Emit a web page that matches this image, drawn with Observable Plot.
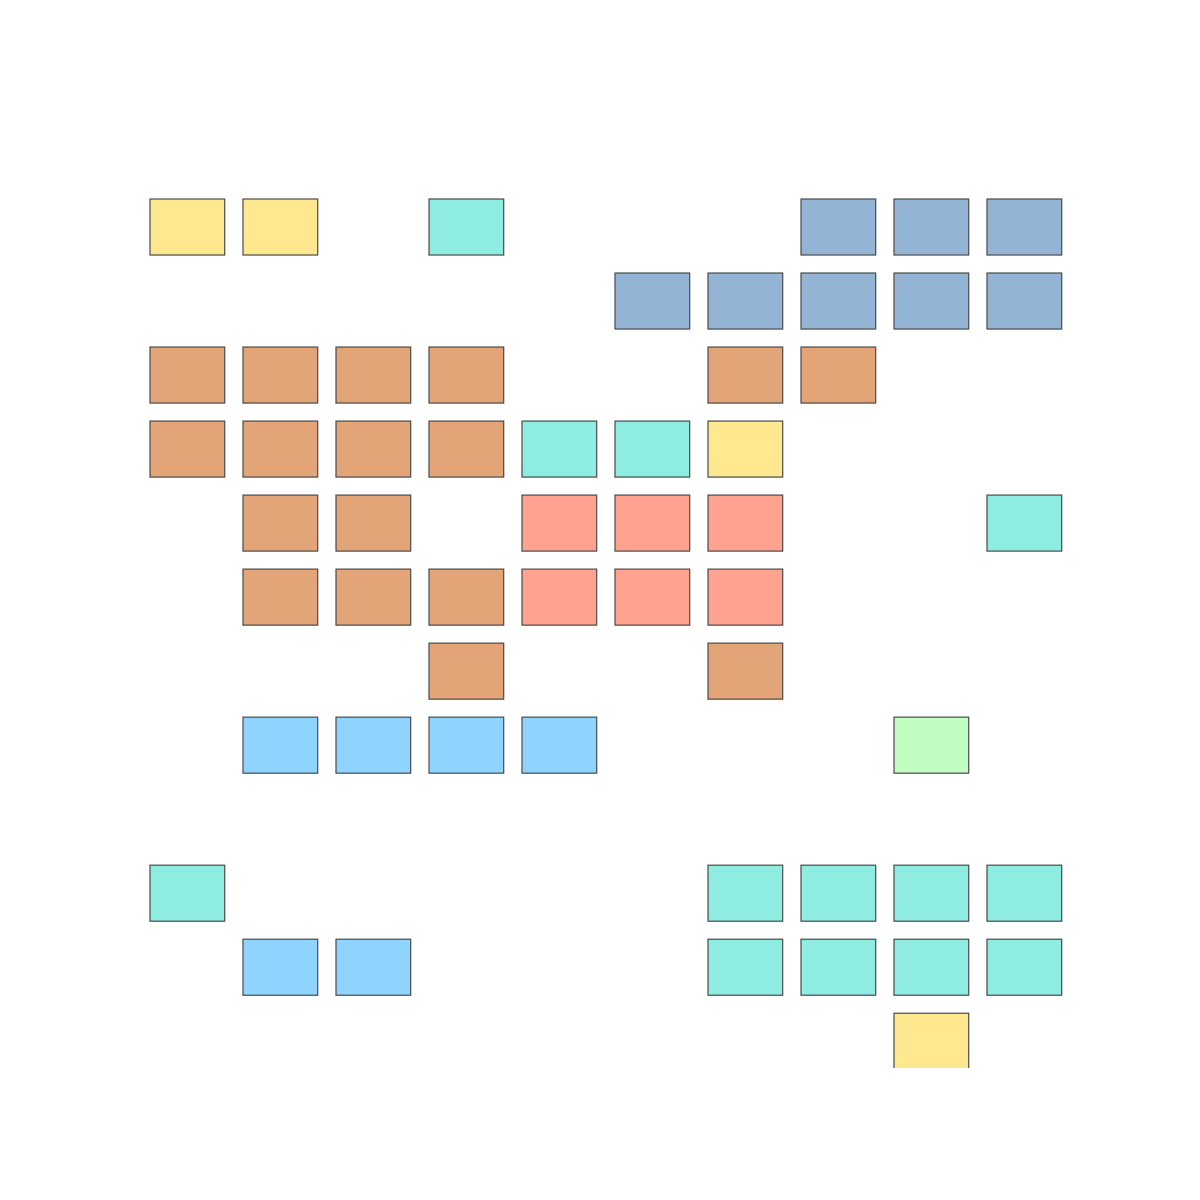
<!DOCTYPE html>
<html>
<head>
<meta charset="utf-8">
<script src="https://cdn.jsdelivr.net/npm/d3@7"></script>
<script src="https://cdn.jsdelivr.net/npm/@observablehq/plot@0.6"></script>
<style>
  html, body { margin: 0; padding: 0; background: #fff; }
</style>
</head>
<body>
<div id="chart"></div>
<script>
// Grid cells: column index, row index, category
const cellCol = [0,1,3,7,8,9, 5,6,7,8,9, 0,1,2,3,6,7, 0,1,2,3,4,5,6, 1,2,4,5,6,9, 1,2,3,4,5,6, 3,6, 1,2,3,4,8, 0,6,7,8,9, 1,2,6,7,8,9, 8];
const cellRow = [0,0,0,0,0,0, 1,1,1,1,1, 2,2,2,2,2,2, 3,3,3,3,3,3,3, 4,4,4,4,4,4, 5,5,5,5,5,5, 6,6, 7,7,7,7,7, 9,9,9,9,9, 10,10,10,10,10,10, 11];
const cellCat = [
  "A","A","B","C","C","C",
  "C","C","C","C","C",
  "D","D","D","D","D","D",
  "D","D","D","D","B","B","A",
  "D","D","E","E","E","B",
  "D","D","D","E","E","E",
  "D","D",
  "F","F","F","F","G",
  "B","B","B","B","B",
  "F","F","B","B","B","B",
  "A"
];
const categories = ["A","B","C","D","E","F","G"];
const catColors = ["#ffe88f","#8eece1","#93b4d4","#e3a577","#ffa290","#8fd4ff","#c1fcc1"];

const data = cellCol.map((c, i) => ({col: c, row: cellRow[i], cat: cellCat[i]}));

const chart = Plot.plot({
  width: 1200,
  height: 1200,
  marginLeft: 140,
  marginRight: 120,
  marginTop: 189,
  marginBottom: 132,
  x: {domain: [-0.1075, 10], axis: null},
  y: {domain: [-0.1351, 11.74], reverse: true, axis: null},
  color: {domain: categories, range: catColors},
  marks: [
    Plot.rect(data, {
      x1: "col",
      x2: d => d.col + 1,
      y1: "row",
      y2: d => d.row + 1,
      insetRight: 18.3,
      insetBottom: 18,
      fill: "cat",
      stroke: "#4a4a4a",
      strokeWidth: 1.2,
      clip: true
    })
  ]
});
document.getElementById("chart").appendChild(chart);
</script>
</body>
</html>
